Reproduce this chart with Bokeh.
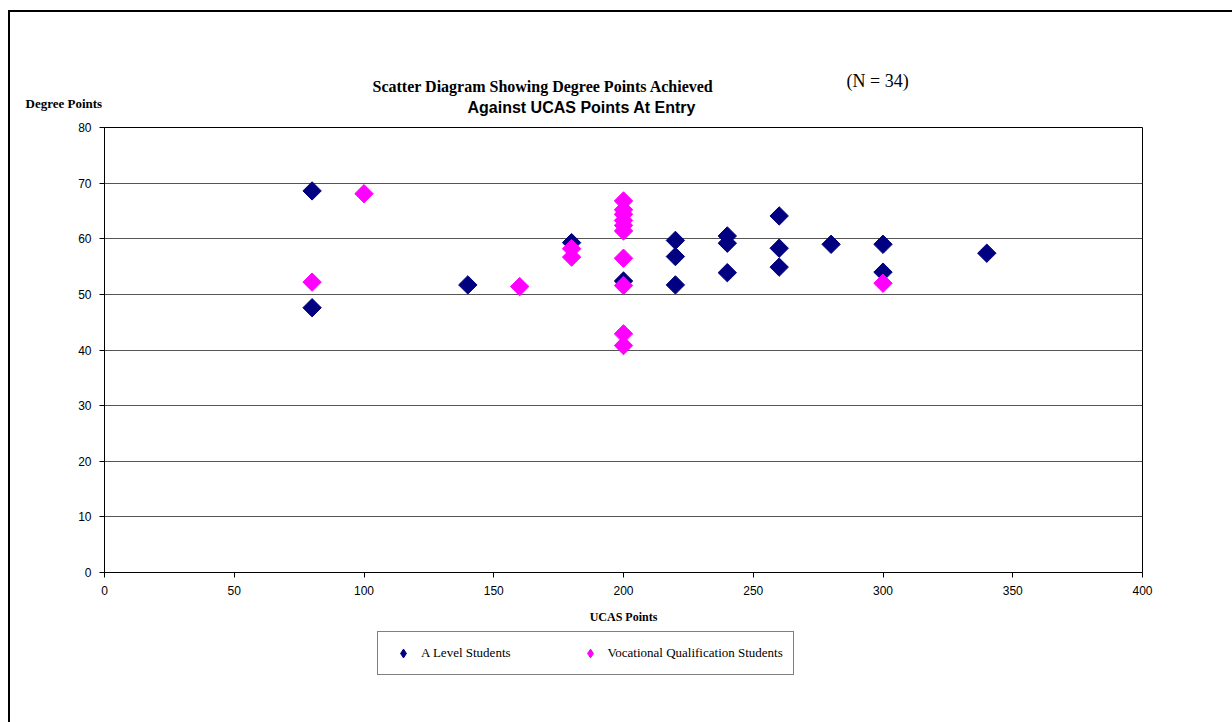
from bokeh.plotting import figure
from bokeh.models import Legend, LegendItem, Range1d, FixedTicker, Title
from bokeh.layouts import column
from bokeh.embed import file_html
from bokeh.resources import INLINE
import math

# ---- data ----
a_level_ucas = [80, 80, 140, 180, 200, 220, 220, 220, 240, 240, 240, 260, 260, 260, 280, 300, 300, 340]
a_level_degree = [68.6, 47.6, 51.7, 59.3, 52.4, 59.7, 56.8, 51.7, 60.5, 59.2, 53.9, 64.1, 58.3, 54.9, 59.0, 59.0, 54.0, 57.4]
voc_ucas = [80, 100, 160, 180, 180, 200, 200, 200, 200, 200, 200, 200, 200, 200, 200, 300]
voc_degree = [52.2, 68.1, 51.4, 58.2, 56.7, 66.8, 65.2, 64.4, 63.3, 62.4, 61.4, 56.5, 51.6, 42.9, 40.8, 52.0]
x_ticks = [0, 50, 100, 150, 200, 250, 300, 350, 400]
y_ticks = [0, 10, 20, 30, 40, 50, 60, 70, 80]
series_names = ["A Level Students", "Vocational Qualification Students"]

SERIF = "Liberation Serif"
SANS = "Liberation Sans"
NAVY = "#000080"
MAGENTA = "#FF00FF"

# page geometry (pixels)
PAGE_W, PAGE_H = 1232, 722
OFF_X, OFF_Y = 10, 12          # content origin inside page (after border)
FL, FR, FT, FB = 104, 1142, 127, 572  # frame in page pixels
P1_BOTTOM = 628                # bottom of the main figure's canvas (page px)

p = figure(frame_width=FR - FL, frame_height=FB - FT,
           output_backend="svg", toolbar_location=None,
           x_range=Range1d(0, 400), y_range=Range1d(0, 80),
           min_border_left=FL - OFF_X, min_border_right=PAGE_W - FR,
           min_border_top=FT - OFF_Y, min_border_bottom=P1_BOTTOM - FB)
p.background_fill_color = "white"
p.border_fill_color = "white"
p.outline_line_color = "black"
p.outline_line_width = 1

# axes
p.xaxis.ticker = FixedTicker(ticks=x_ticks)
p.yaxis.ticker = FixedTicker(ticks=y_ticks)
for ax in (p.xaxis[0], p.yaxis[0]):
    ax.axis_line_color = "black"
    ax.major_tick_line_color = "black"
    ax.major_tick_out = 5
    ax.major_tick_in = 0
    ax.minor_tick_line_color = None
    ax.major_label_text_font = SANS
    ax.major_label_text_font_size = "12px"
    ax.major_label_text_color = "black"
    ax.major_label_standoff = 8
p.xaxis.axis_label = "UCAS Points"
p.xaxis.axis_label_text_font = SERIF
p.xaxis.axis_label_text_font_style = "bold"
p.xaxis.axis_label_text_font_size = "12px"
p.xaxis.axis_label_text_color = "black"
p.xaxis.axis_label_standoff = 12

p.xgrid.grid_line_color = None
p.ygrid.grid_line_color = "#555555"
p.ygrid.grid_line_width = 1

# data points (diamonds = rotated squares)
p.scatter(a_level_ucas, a_level_degree, marker="square", angle=math.pi / 4,
          size=13, fill_color=NAVY, line_color=NAVY)
p.scatter(voc_ucas, voc_degree, marker="square", angle=math.pi / 4,
          size=13, fill_color=MAGENTA, line_color=MAGENTA)


def title(text, x_start, standoff, font, size, style="normal"):
    p.add_layout(Title(text=text, align="left", offset=x_start - FL, standoff=standoff,
                       text_font=font, text_font_size=size, text_font_style=style,
                       text_color="black"), "above")


# first added sits closest to the plot area
title("Against UCAS Points At Entry", 467, 23, SANS, "16px", "bold")
title("Degree Points", 25, -50, SERIF, "13px", "bold")
title("Scatter Diagram Showing Degree Points Achieved", 372, -18, SERIF, "16px", "bold")
title("(N = 34)", 846, -12, SERIF, "18px", "normal")

# ---- legend strip (separate figure so the legend lies inside a frame) ----
LEG_H = PAGE_H - P1_BOTTOM
q = figure(width=PAGE_W - OFF_X, height=LEG_H, output_backend="svg", toolbar_location=None,
           x_range=Range1d(0, 1), y_range=Range1d(0, 1),
           min_border=0, x_axis_type=None, y_axis_type=None)
q.grid.visible = False
q.outline_line_color = None
q.background_fill_color = "white"
q.border_fill_color = "white"
# same series, outside this strip's ranges (so only their legend swatches show)
k_a = q.scatter(a_level_ucas, a_level_degree, marker="diamond", fill_color=NAVY, line_color=NAVY)
k_v = q.scatter(voc_ucas, voc_degree, marker="diamond", fill_color=MAGENTA, line_color=MAGENTA)

legend = Legend(items=[LegendItem(label=series_names[0], renderers=[k_a]),
                       LegendItem(label=series_names[1], renderers=[k_v])],
                orientation="horizontal", location=(377 - FL, PAGE_H - 675),
                padding=10, spacing=64, glyph_width=30, glyph_height=22,
                label_standoff=3, label_text_font=SERIF, label_text_font_size="13px",
                label_text_color="black",
                border_line_color="black", border_line_width=1,
                background_fill_color="white", background_fill_alpha=1)
q.add_layout(legend, "center")

page = column(p, q, spacing=0, margin=(OFF_Y - 2, 0, 0, OFF_X - 2),
              styles={"border-top": "2px solid black", "border-left": "2px solid black",
                      "background-color": "white"})

open("out.html", "w").write(file_html(page, INLINE))
